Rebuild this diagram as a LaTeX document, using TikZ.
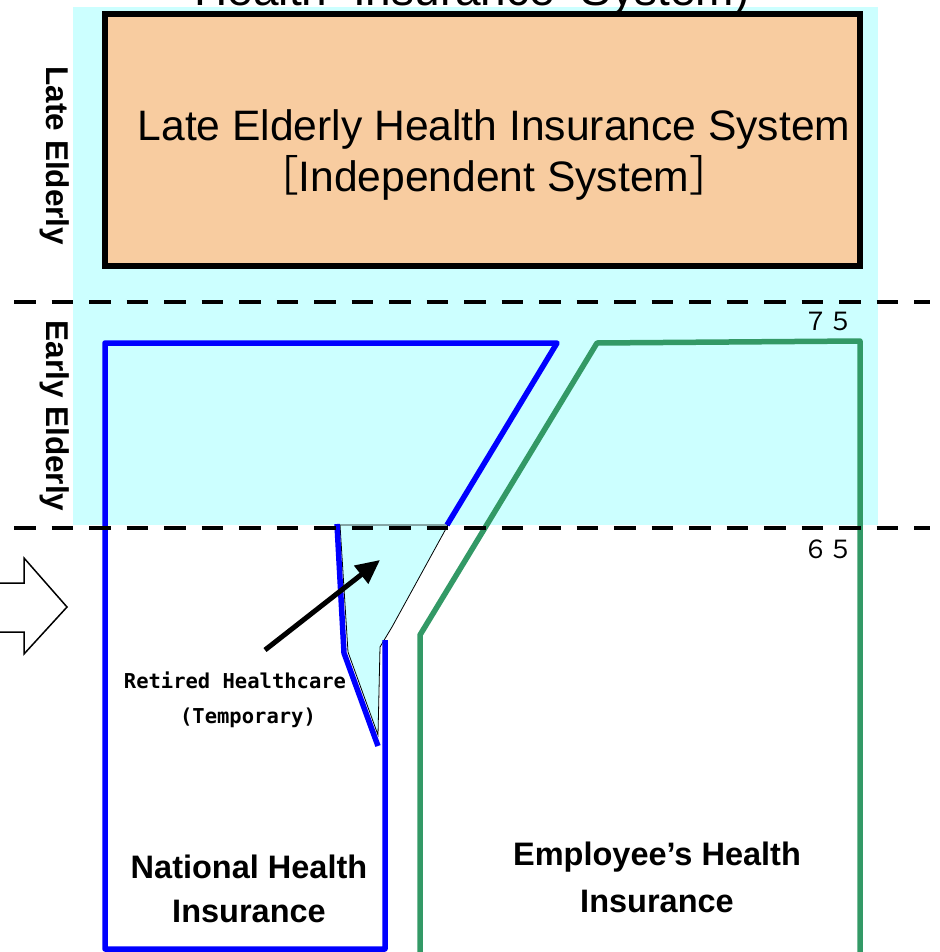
\documentclass[tikz,border=0pt]{standalone}
\usepackage{fontspec}
\setmainfont{Liberation Sans}
\newfontfamily\mono{DejaVu Sans Mono}
\newfontfamily\cjk{Noto Sans CJK JP}
\usetikzlibrary{arrows.meta}
\definecolor{bgcyan}{HTML}{CCFFFF}
\definecolor{peach}{HTML}{F8CCA0}
\definecolor{nhiblue}{HTML}{0000FF}
\definecolor{empgreen}{HTML}{339966}
\tikzset{
  ageline/.style={line width=4pt, dash pattern=on 21.5pt off 16pt},
  bluepath/.style={draw=nhiblue, line width=5.5pt, line join=round},
  greenpath/.style={draw=empgreen, line width=5.5pt, line join=round},
  bigtext/.style={inner sep=0pt, anchor=base, font=\fontsize{42.6}{50}\selectfont},
  boldlabel/.style={inner sep=0pt, anchor=base, font=\bfseries\fontsize{32.5}{36}\selectfont},
  sidelabel/.style={inner sep=0pt, rotate=-90, font=\bfseries\fontsize{31.5}{36}\selectfont},
  monolabel/.style={inner sep=0pt, anchor=base, font=\mono\bfseries\fontsize{20.5}{24}\selectfont},
  agenum/.style={inner sep=0pt, anchor=base, font=\cjk\fontsize{25}{28}\selectfont},
}
\begin{document}
\begin{tikzpicture}[x=1pt,y=-1pt]
\useasboundingbox (0,0) rectangle (939,952);
% background bands
\fill[bgcyan] (73,7) rectangle (878,525);
% late elderly box
\draw[line width=6pt, fill=peach] (105,14) rectangle (860,266);
\node[bigtext] (les1) at (494,141) {Late Elderly Health Insurance System};
\node[bigtext] (les2) at (494,191) {{\cjk ［}Independent System{\cjk ］}};
% cut title at top
\node[inner sep=0pt, anchor=base, font=\fontsize{46}{48}\selectfont] (title) at (472,6) {Health\ \ Insurance\ \ System)};
% retired healthcare region
\fill[bgcyan, draw=black, line width=0.8pt] (340,525) -- (448,525) -- (392,627) -- (380,647) -- (378,735) -- (348,652) -- cycle;
% national health insurance
\draw[bluepath] (447,525) -- (557,343) -- (105,343) -- (105,949) -- (385,949) -- (385,640);
\draw[bluepath] (337,524) -- (344,653) -- (378,746);
% employee's health insurance
\draw[greenpath] (420,955) -- (420,635) -- (597,343) -- (860,341) -- (860,955);
% age lines
\draw[ageline] (14,302) -- (930,302);
\draw[ageline] (14,528) -- (930,528);
\node[agenum] (a75) at (828,330) {７５};
\node[agenum] (a65) at (828,558) {６５};
% side labels
\node[sidelabel] (late) at (55,156) {Late Elderly};
\node[sidelabel] (early) at (55,416) {Early Elderly};
% block arrow
\draw[line width=1.5pt, fill=white, line join=miter] (-5,583) -- (24,583) -- (24,558) -- (67,607) -- (24,654) -- (24,632) -- (-5,632);
% retired label + arrow
\node[monolabel] (ret1) at (235,688) {Retired Healthcare};
\node[monolabel] (ret2) at (248,723) {(Temporary)};
\coordinate (arrtail) at (265,650);
\coordinate (arrtip) at (380,560);
\draw[line width=5pt, -{Triangle[length=24pt,width=22pt]}] (arrtail) -- (arrtip);
% box labels
\node[boldlabel] (nhi1) at (249,878) {National Health};
\node[boldlabel] (nhi2) at (249,922) {Insurance};
\node[boldlabel] (emp1) at (657,865) {Employee’s Health};
\node[boldlabel] (emp2) at (657,912) {Insurance};
\end{tikzpicture}
\end{document}
